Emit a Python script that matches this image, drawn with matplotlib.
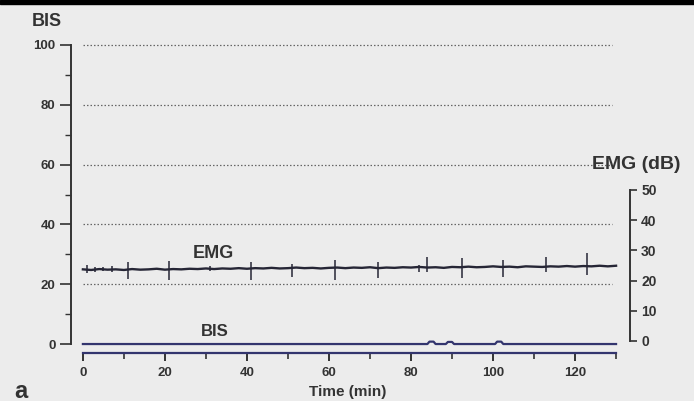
import matplotlib.pyplot as plt
from matplotlib.patches import Rectangle

plt.rcParams['font.family'] = ['Liberation Sans', 'DejaVu Sans']
plt.rcParams['font.weight'] = 'bold'

# values
bis_levels = [20, 40, 60, 80, 100]

emg_time = list(range(0, 131, 2))
emg_db = [23.7, 23.5, 23.8, 23.6, 23.7, 23.5, 23.8, 23.6, 23.7, 23.9,
          23.6, 23.8, 23.7, 23.9, 23.8, 24.0, 23.8, 24.0, 23.9, 24.1,
          23.9, 24.1, 24.0, 24.2, 24.0, 24.1, 24.3, 24.1, 24.2, 24.0,
          24.2, 24.3, 24.1, 24.3, 24.2, 24.4, 24.1, 24.3, 24.2, 24.4,
          24.3, 24.5, 24.3, 24.4, 24.2, 24.5, 24.4, 24.6, 24.4, 24.5,
          24.7, 24.5, 24.6, 24.4, 24.7, 24.6, 24.5, 24.7, 24.6, 24.8,
          24.6, 24.8, 24.7, 24.9, 24.7, 24.9]

# artefact spikes on the EMG trace (min, dB top, dB bottom)
spike_time = [1, 3, 5, 7, 11, 21, 31, 41, 51, 61.5, 72, 82, 84, 92.5, 102.5, 113, 123]
spike_top = [25.2, 24.6, 24.6, 24.7, 26.2, 26.4, 24.8, 26.3, 25.4, 26.8, 26.2, 25.2, 27.8, 27.5, 26.8, 27.8, 29.1]
spike_bottom = [22.4, 22.9, 23.0, 22.9, 20.4, 20.3, 23.0, 20.3, 21.3, 20.2, 20.9, 22.8, 22.8, 20.9, 21.2, 22.8, 21.9]

bis_time = [0, 84, 84.5, 85.5, 86, 88.5, 89, 90, 90.5, 100.5, 101, 102, 102.5, 130]
bis_value = [0, 0, 0.8, 0.8, 0, 0, 0.7, 0.7, 0, 0, 0.8, 0.8, 0, 0]

x_major = [0, 20, 40, 60, 80, 100, 120]
x_minor = [10, 30, 50, 70, 90, 110, 130]
emg_ticks = [0, 10, 20, 30, 40, 50]

line_col = '#33356e'
text_col = '#333333'

fig = plt.figure(figsize=(6.94, 4.01), dpi=100, facecolor='#ececec')
fig.patches.append(Rectangle((0, 1 - 4 / 401), 1, 4 / 401, transform=fig.transFigure,
                             color='black', zorder=0))

ax = fig.add_axes([71 / 694, 1 - 353 / 401, (630 - 71) / 694, (353 - 42) / 401])
ax.set_facecolor('none')
ax.set_xlim(-2.9, 133.4)
ax.set_ylim(-3, 101)

ax.hlines(bis_levels, 0, 129, colors='#666666', linestyles=(0, (1.2, 1.6)), linewidth=0.9)
ax.plot(bis_time, bis_value, color=line_col, linewidth=1.6)

for s in ['top', 'right']:
    ax.spines[s].set_visible(False)
ax.spines['left'].set_bounds(0, 100)
ax.spines['left'].set_color('#333333')
ax.spines['left'].set_linewidth(1.4)
ax.spines['bottom'].set_bounds(0, 130)
ax.spines['bottom'].set_color(line_col)
ax.spines['bottom'].set_linewidth(1.6)

ax.set_yticks([0, 20, 40, 60, 80, 100])
ax.set_yticks([10, 30, 50, 70, 90], minor=True)
ax.set_xticks(x_major)
ax.set_xticks(x_minor, minor=True)
ax.tick_params(axis='y', which='major', length=8, width=1.2, pad=3,
               labelsize=9.5, labelcolor=text_col, color='#333333')
ax.tick_params(axis='y', which='minor', length=4, width=1.0, color='#333333')
ax.tick_params(axis='x', which='major', length=6, width=1.4, pad=4,
               labelsize=9.5, labelcolor=text_col, color='#333333')
ax.tick_params(axis='x', which='minor', length=4, width=1.2, color='#333333')

ax2 = ax.twinx()
ax2.set_ylim(-4, 99)
ax2.plot(emg_time, emg_db, color='#262636', linewidth=1.7)
ax2.vlines(spike_time, spike_bottom, spike_top, colors='#262636', linewidth=1.1)
for s in ['top', 'left', 'bottom']:
    ax2.spines[s].set_visible(False)
ax2.spines['right'].set_bounds(0, 50)
ax2.spines['right'].set_color('#333333')
ax2.spines['right'].set_linewidth(1.4)
ax2.set_yticks(emg_ticks)
ax2.tick_params(axis='y', length=5, width=1.2, pad=3, labelsize=10,
                labelcolor=text_col, color='#333333')

fig.text(47 / 694, 1 - 22 / 401, 'BIS', fontsize=13, color=text_col, ha='center', va='center')
fig.text(592 / 694, 1 - 164 / 401, 'EMG (dB)', fontsize=14, color=text_col, ha='left', va='center')
fig.text(213 / 694, 1 - 254 / 401, 'EMG', fontsize=13, color=text_col, ha='center', va='center')
fig.text(215 / 694, 1 - 332 / 401, 'BIS', fontsize=12, color=text_col, ha='center', va='center')
fig.text(21 / 694, 1 - 391 / 401, 'a', fontsize=17, color=text_col, ha='center', va='center')
fig.text(348 / 694, 1 - 392 / 401, 'Time (min)', fontsize=11, color=text_col, ha='center', va='center')

fig.savefig('out.png', dpi=100, facecolor=fig.get_facecolor())
